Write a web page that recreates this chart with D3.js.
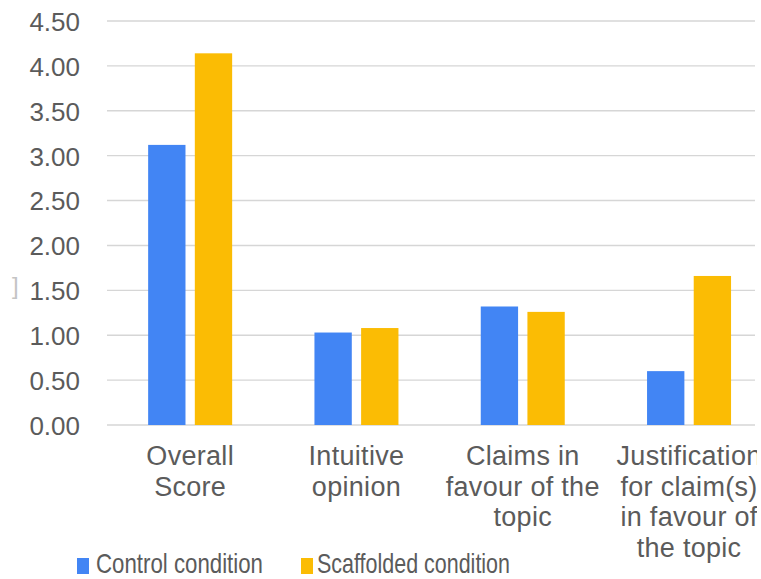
<!DOCTYPE html>
<html>
<head>
<meta charset="utf-8">
<script src="https://cdn.jsdelivr.net/npm/d3@7"></script>
<style>
  html, body { margin: 0; padding: 0; background: #fff; }
  svg { display: block; }
</style>
</head>
<body>
<svg id="chart" width="761" height="579"></svg>
<script>
// Category labels (one entry per line) and the two series
const categories = ["Overall Score", "Intuitive opinion", "Claims in favour of the topic", "Justification for claim(s) in favour of the topic"];
const categoryLines = [
  ["Overall", "Score"],
  ["Intuitive", "opinion"],
  ["Claims in", "favour of the", "topic"],
  ["Justification", "for claim(s)", "in favour of", "the topic"]
];
const seriesNames = ["Control condition", "Scaffolded condition"];
const controlValues = [3.12, 1.03, 1.32, 0.60];
const scaffoldedValues = [4.14, 1.08, 1.26, 1.66];
const yTicks = [0, 0.5, 1, 1.5, 2, 2.5, 3, 3.5, 4, 4.5];
const seriesColors = ["#4285F4", "#FBBC04"];

const svg = d3.select("#chart");
const textColor = "#5b5b5b";
const font = "Liberation Sans, Arial, sans-serif";

// Visible area is cut off slightly at the right edge
svg.append("defs").append("clipPath").attr("id", "cut")
  .append("rect").attr("x", 0).attr("y", 0).attr("width", 757).attr("height", 579);
const g = svg.append("g").attr("clip-path", "url(#cut)");

const plotLeft = 107, plotRight = 755, plotTop = 21, plotBottom = 425;

const y = d3.scaleLinear().domain([0, 4.5]).range([plotBottom, plotTop]);
const x0 = d3.scaleBand().domain(categories).range([plotLeft, plotLeft + 4 * 166.3]);
const groupWidth = 84;
const x1 = d3.scaleBand().domain(seriesNames).range([0, groupWidth]).paddingInner(0.2);

// Gridlines
g.append("g")
  .selectAll("line")
  .data(yTicks)
  .join("line")
  .attr("x1", plotLeft).attr("x2", plotRight)
  .attr("y1", d => y(d)).attr("y2", d => y(d))
  .attr("stroke", "#d6d6d6")
  .attr("stroke-width", 1.4);

// Y axis tick labels
const yAxis = d3.axisLeft(y).tickValues(yTicks).tickFormat(d3.format(".2f")).tickSize(0).tickPadding(0);
const yAxisG = g.append("g").attr("transform", "translate(80,0)").call(yAxis);
yAxisG.select(".domain").remove();
yAxisG.selectAll("text")
  .attr("fill", textColor)
  .attr("font-family", font)
  .attr("font-size", 26)
  .attr("dy", "0.36em");

// Bars
const rows = categories.map((c, i) => ({ category: c, values: [controlValues[i], scaffoldedValues[i]] }));
const groups = g.append("g").selectAll("g")
  .data(rows)
  .join("g")
  .attr("transform", d => `translate(${x0(d.category) + (x0.bandwidth() - groupWidth) / 2},0)`);
groups.selectAll("rect")
  .data(d => d.values.map((v, k) => ({ series: seriesNames[k], value: v, color: seriesColors[k] })))
  .join("rect")
  .attr("x", d => x1(d.series))
  .attr("width", x1.bandwidth())
  .attr("y", d => y(d.value))
  .attr("height", d => plotBottom - y(d.value))
  .attr("fill", d => d.color);

// Category labels
const labelG = g.append("g");
categories.forEach((c, i) => {
  const cx = x0(c) + x0.bandwidth() / 2;
  const t = labelG.append("text")
    .attr("text-anchor", "middle")
    .attr("fill", textColor)
    .attr("font-family", font)
    .attr("font-size", 27)
    .attr("letter-spacing", "0.3px");
  categoryLines[i].forEach((line, j) => {
    t.append("tspan").attr("x", cx).attr("y", 465 + j * 30.5).text(line);
  });
});

// Partial bracket left of the axis
g.append("text")
  .attr("x", 12).attr("y", 294)
  .attr("fill", "#c4c4c4")
  .attr("font-family", font)
  .attr("font-size", 24)
  .text("]");

// Legend
const legendItems = [
  { name: seriesNames[0], color: seriesColors[0], box: 77, text: 96, width: 167 },
  { name: seriesNames[1], color: seriesColors[1], box: 301, text: 317, width: 193 }
];
const legend = g.append("g");
legendItems.forEach(d => {
  legend.append("rect")
    .attr("x", d.box).attr("y", 558)
    .attr("width", 12).attr("height", 16)
    .attr("fill", d.color);
  legend.append("text")
    .attr("x", d.text).attr("y", 573)
    .attr("fill", textColor)
    .attr("font-family", "Liberation Sans Narrow, Liberation Sans, Arial, sans-serif")
    .attr("font-size", 28)
    .attr("textLength", d.width)
    .attr("lengthAdjust", "spacingAndGlyphs")
    .text(d.name);
});
</script>
</body>
</html>
